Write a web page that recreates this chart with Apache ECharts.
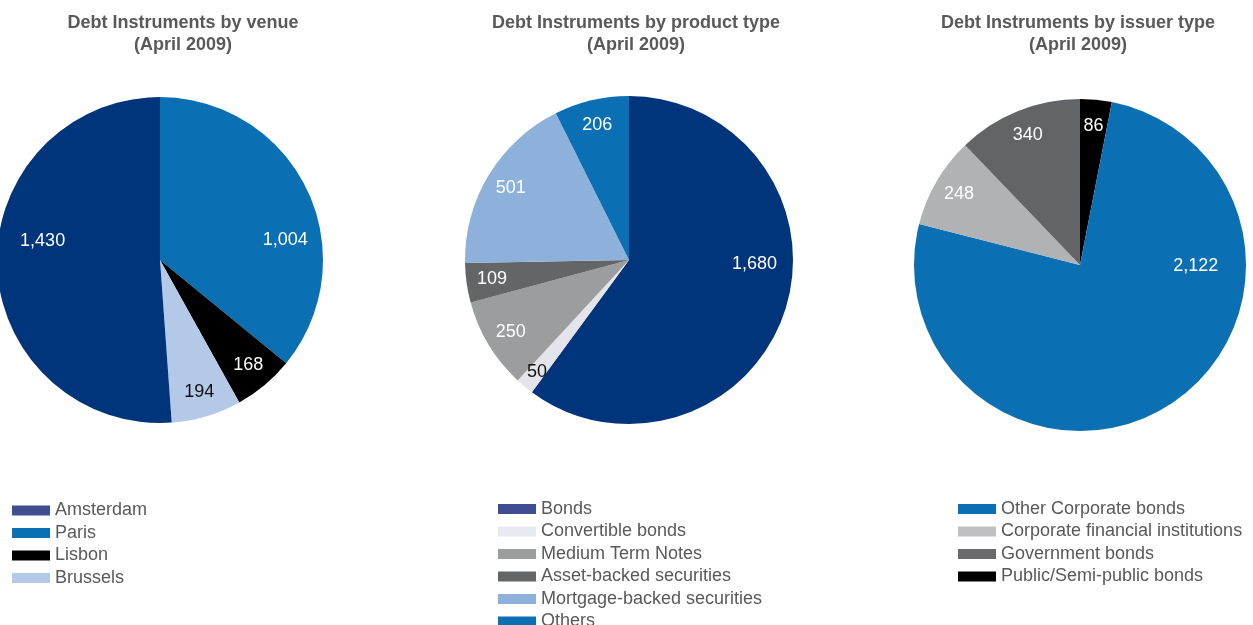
<!DOCTYPE html>
<html>
<head>
<meta charset="utf-8">
<script src="https://cdn.jsdelivr.net/npm/echarts@6/dist/echarts.min.js"></script>
<style>html,body{margin:0;padding:0;background:#fff;}#chart{width:1253px;height:625px;}</style>
</head>
<body>
<div id="chart"></div>
<script>
// Data (pie order: clockwise from 12 o'clock)
const venueCategories = ['Paris', 'Lisbon', 'Brussels', 'Amsterdam'];
const venueValues = [1004, 168, 194, 1430];
const venueLegend = ['Amsterdam', 'Paris', 'Lisbon', 'Brussels'];

const productCategories = ['Bonds', 'Convertible bonds', 'Medium Term Notes', 'Asset-backed securities', 'Mortgage-backed securities', 'Others'];
const productValues = [1680, 50, 250, 109, 501, 206];
const productLegend = ['Bonds', 'Convertible bonds', 'Medium Term Notes', 'Asset-backed securities', 'Mortgage-backed securities', 'Others'];

const issuerCategories = ['Public/Semi-public bonds', 'Other Corporate bonds', 'Corporate financial institutions', 'Government bonds'];
const issuerValues = [86, 2122, 248, 340];
const issuerLegend = ['Other Corporate bonds', 'Corporate financial institutions', 'Government bonds', 'Public/Semi-public bonds'];

const titles = ['Debt Instruments by venue\n(April 2009)', 'Debt Instruments by product type\n(April 2009)', 'Debt Instruments by issuer type\n(April 2009)'];

// Styles
const sliceColors = {
  'Paris': '#0b6fb3', 'Lisbon': '#000000', 'Brussels': '#b3c9e7', 'Amsterdam': '#00357b',
  'Bonds': '#00357b', 'Convertible bonds': '#e4e4ea', 'Medium Term Notes': '#9c9d9f',
  'Asset-backed securities': '#646567', 'Mortgage-backed securities': '#8eb1db', 'Others': '#0b6fb3',
  'Public/Semi-public bonds': '#000000', 'Other Corporate bonds': '#0b6fb3',
  'Corporate financial institutions': '#b1b2b4', 'Government bonds': '#636466'
};
const legendColors = Object.assign({}, sliceColors, {
  'Amsterdam': '#404d92', 'Bonds': '#404d92', 'Convertible bonds': '#e9e9f2',
  'Corporate financial institutions': '#c0c0c2', 'Government bonds': '#6a6a6c'
});
const darkLabel = { 'Brussels': true, 'Convertible bonds': true };
// label nudges for the large slices (text placement only)
const labelNudge = {
  'Amsterdam': [20, -24], 'Paris': [1, 39], 'Bonds': [-6, -39], 'Other Corporate bonds': [41, -117],
  'Convertible bonds': [-4, 5]
};

const fmt = v => v.toLocaleString('en-US');
const FONT = 'Liberation Sans, Arial, sans-serif';

function pieSeries(names, values, center, r) {
  const data = names.map((n, i) => ({ name: n, value: values[i], itemStyle: { color: sliceColors[n] } }));
  const labelData = names.map((n, i) => ({
    name: n, value: values[i],
    label: { color: darkLabel[n] ? '#111' : '#fff', offset: labelNudge[n] || [0, 0] }
  }));
  return [
    {
      type: 'pie', center: center, radius: [0, r], startAngle: 90, clockwise: true,
      data: data, label: { show: false }, labelLine: { show: false },
      emphasis: { disabled: true }, silent: true, animation: false
    },
    {
      type: 'pie', center: center, radius: [r * 0.65, r], startAngle: 90, clockwise: true,
      data: labelData, itemStyle: { color: 'rgba(0,0,0,0)' },
      label: {
        show: true, position: 'inside', fontSize: 18, fontFamily: FONT,
        formatter: p => fmt(p.value)
      },
      labelLine: { show: false }, emphasis: { disabled: true }, silent: true, animation: false,
      avoidLabelOverlap: false
    }
  ];
}

function legend(names, left, top) {
  return {
    orient: 'vertical', left: left, top: top, height: 200, padding: 0, icon: 'rect',
    itemWidth: 38, itemHeight: 10, itemGap: 4.5, selectedMode: false,
    textStyle: { fontSize: 18, lineHeight: 18, color: '#595959', fontFamily: FONT },
    data: names.map(n => ({ name: n, itemStyle: { color: legendColors[n] } }))
  };
}

function title(text, x) {
  return {
    text: text, left: x, top: 12, padding: 0, textAlign: 'center',
    textStyle: { fontSize: 18, fontWeight: 'bold', color: '#595959', lineHeight: 22, fontFamily: FONT }
  };
}

const chart = echarts.init(document.getElementById('chart'), null, { renderer: 'canvas' });
chart.setOption({
  animation: false,
  title: [title(titles[0], 183), title(titles[1], 636), title(titles[2], 1078)],
  legend: [legend(venueLegend, 12, 501.5), legend(productLegend, 498, 500), legend(issuerLegend, 958, 500)],
  series: [].concat(
    pieSeries(venueCategories, venueValues, [160, 260], 163),
    pieSeries(productCategories, productValues, [629, 260], 164),
    pieSeries(issuerCategories, issuerValues, [1080, 265], 166)
  )
});
</script>
</body>
</html>
